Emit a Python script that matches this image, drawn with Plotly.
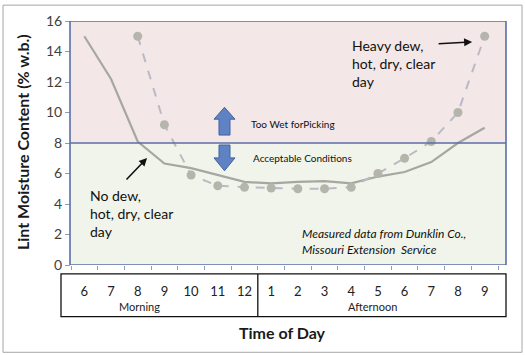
import plotly.graph_objects as go

# ---------------- data ----------------
hours = ["6", "7", "8", "9", "10", "11", "12", "1", "2", "3", "4", "5", "6", "7", "8", "9"]
no_dew = [15.0, 12.2, 8.1, 6.65, 6.35, 5.9, 5.45, 5.35, 5.45, 5.5, 5.35, 5.8, 6.1, 6.75, 8.0, 9.0]
heavy_dew_hours = hours[2:]
heavy_dew = [15.0, 9.2, 5.9, 5.2, 5.1, 5.05, 5.0, 5.0, 5.1, 6.0, 7.0, 8.1, 10.0, 15.0]
y_ticks = [0, 2, 4, 6, 8, 10, 12, 14, 16]
threshold = 8
y_max = 16

x_all = list(range(len(hours)))
x_heavy = list(range(len(hours) - len(heavy_dew_hours), len(hours)))

# ---------------- layout helpers (pixel -> paper) ----------------
L, R, T, B = 71, 498, 19, 265
W, H = R - L, B - T
def px(x):
    return (x - L) / W
def py(y):
    return (B - y) / H

FONT = "Lato, 'Open Sans', sans-serif"
BLUE = "#5B6EA9"

fig = go.Figure()
fig.add_trace(go.Scatter(
    x=x_all, y=no_dew, mode="lines",
    line=dict(color="#A7A7A1", width=2.2),
    hoverinfo="skip", showlegend=False))
fig.add_trace(go.Scatter(
    x=x_heavy, y=heavy_dew, mode="lines+markers",
    line=dict(color="#BABAC6", width=2, dash="dash"),
    marker=dict(color="#B5B5AD", size=9),
    hoverinfo="skip", showlegend=False))

shapes = []
# outer frame
shapes.append(dict(type="rect", xref="paper", yref="paper", x0=px(3), x1=px(522), y0=py(353), y1=py(3),
                   line=dict(color="#A6A6A6", width=1), layer="below"))
# background bands
shapes.append(dict(type="rect", xref="paper", yref="y", x0=px(70), x1=px(506), y0=threshold, y1=y_max,
                   fillcolor="#F3E7E7", line=dict(width=0), layer="below"))
shapes.append(dict(type="rect", xref="paper", yref="y", x0=px(70), x1=px(506), y0=0, y1=threshold,
                   fillcolor="#F0F4EA", line=dict(width=0), layer="below"))
# plot border
shapes.append(dict(type="rect", xref="paper", yref="y", x0=px(70), x1=px(506), y0=0, y1=y_max,
                   line=dict(color=BLUE, width=1.6), layer="above"))
# threshold line
shapes.append(dict(type="line", xref="paper", yref="y", x0=px(70), x1=px(506), y0=threshold, y1=threshold,
                   line=dict(color=BLUE, width=1.6)))
# category box under the plot
shapes.append(dict(type="rect", xref="paper", yref="paper", x0=px(61), x1=px(506), y0=py(317), y1=py(274),
                   line=dict(color="#111111", width=1.3)))
shapes.append(dict(type="line", xref="x", yref="paper", x0=6.5, x1=6.5, y0=py(317), y1=py(274),
                   line=dict(color="#111111", width=1.3)))

def poly(pts):
    return "M " + " L ".join(f"{px(a):.5f},{py(b):.5f}" for a, b in pts) + " Z"

cx = 224.5
up = [(cx, 106), (cx + 10.5, 118), (cx + 5.5, 118), (cx + 5.5, 134), (cx - 5.5, 134), (cx - 5.5, 118), (cx - 10.5, 118)]
down = [(cx - 5.5, 144), (cx + 5.5, 144), (cx + 5.5, 157), (cx + 10.5, 157), (cx, 170), (cx - 10.5, 157), (cx - 5.5, 157)]
for p in (up, down):
    shapes.append(dict(type="path", xref="paper", yref="paper", path=poly(p),
                       fillcolor="#5F82C4", line=dict(color="#44649F", width=1)))

annotations = []
annotations.append(dict(text="<b>Lint Moisture Content (% w.b.)</b>", xref="paper", yref="paper",
                        x=px(22), y=py(141), textangle=-90, showarrow=False,
                        font=dict(family=FONT, size=16, color="#1a1a1a"), xanchor="center", yanchor="middle"))
annotations.append(dict(text="<b>Time of Day</b>", xref="paper", yref="paper", x=px(282), y=py(333),
                        showarrow=False, font=dict(family=FONT, size=16, color="#1a1a1a"),
                        xanchor="center", yanchor="middle"))
annotations.append(dict(text="Morning", xref="x", yref="paper", x=2.05, y=py(307), showarrow=False,
                        font=dict(family=FONT, size=11, color="#222222"), xanchor="center", yanchor="middle"))
annotations.append(dict(text="Afternoon", xref="x", yref="paper", x=10.8, y=py(307), showarrow=False,
                        font=dict(family=FONT, size=11, color="#222222"), xanchor="center", yanchor="middle"))
annotations.append(dict(text="Too Wet forPicking", xref="paper", yref="paper", x=px(249), y=py(123),
                        showarrow=False, font=dict(family=FONT, size=10, color="#111111"),
                        xanchor="left", yanchor="middle"))
annotations.append(dict(text="Acceptable Conditions", xref="paper", yref="paper", x=px(250.5), y=py(157.5),
                        showarrow=False, font=dict(family=FONT, size=10, color="#111111"),
                        xanchor="left", yanchor="middle"))
annotations.append(dict(text="Heavy dew,<br>hot, dry, clear<br>day", xref="paper", yref="paper",
                        x=px(350), y=py(62), showarrow=False, align="left",
                        font=dict(family=FONT, size=14, color="#111111"), xanchor="left", yanchor="middle"))
annotations.append(dict(text="No dew,<br>hot, dry, clear<br>day", xref="paper", yref="paper",
                        x=px(88), y=py(213), showarrow=False, align="left",
                        font=dict(family=FONT, size=14, color="#111111"), xanchor="left", yanchor="middle"))
annotations.append(dict(text="<i>Measured data from Dunklin Co.,<br>Missouri Extension\u00a0 Service</i>",
                        xref="paper", yref="paper", x=px(300), y=py(241.5), showarrow=False, align="left",
                        font=dict(family=FONT, size=12, color="#111111"), xanchor="left", yanchor="middle"))
# pointer arrows
annotations.append(dict(text="", xref="x", yref="y", x=2.35, y=7.02, ax=-22, ay=23, showarrow=True,
                        arrowhead=2, arrowsize=1, arrowwidth=1.6, arrowcolor="#111111"))
annotations.append(dict(text="", xref="x", yref="y", x=14.53, y=14.63, ax=-35, ay=2, showarrow=True,
                        arrowhead=2, arrowsize=1, arrowwidth=1.6, arrowcolor="#111111"))

fig.update_layout(
    width=525, height=355,
    margin=dict(l=L, r=525 - R, t=T, b=355 - B, pad=0),
    paper_bgcolor="white", plot_bgcolor="rgba(0,0,0,0)",
    shapes=shapes, annotations=annotations, showlegend=False,
    xaxis=dict(range=[-0.5, len(hours) - 0.5], tickvals=x_all, ticktext=hours, ticks="",
               showgrid=False, zeroline=False, showline=False, fixedrange=True,
               tickfont=dict(family=FONT, size=13, color="#222222"), ticklabelstandoff=17,
               minor=dict(tickvals=[i - 0.5 for i in range(len(hours) + 1)], ticks="outside",
                          ticklen=4, tickcolor="#8C9CC0", tickwidth=1, showgrid=False)),
    yaxis=dict(range=[0, y_max], tickvals=y_ticks, ticks="outside", ticklen=5, tickcolor="#8C9CC0",
               showgrid=False, zeroline=False, showline=False, fixedrange=True,
               tickfont=dict(family=FONT, size=14, color="#404040")),
)

fig.write_html("out.html")
